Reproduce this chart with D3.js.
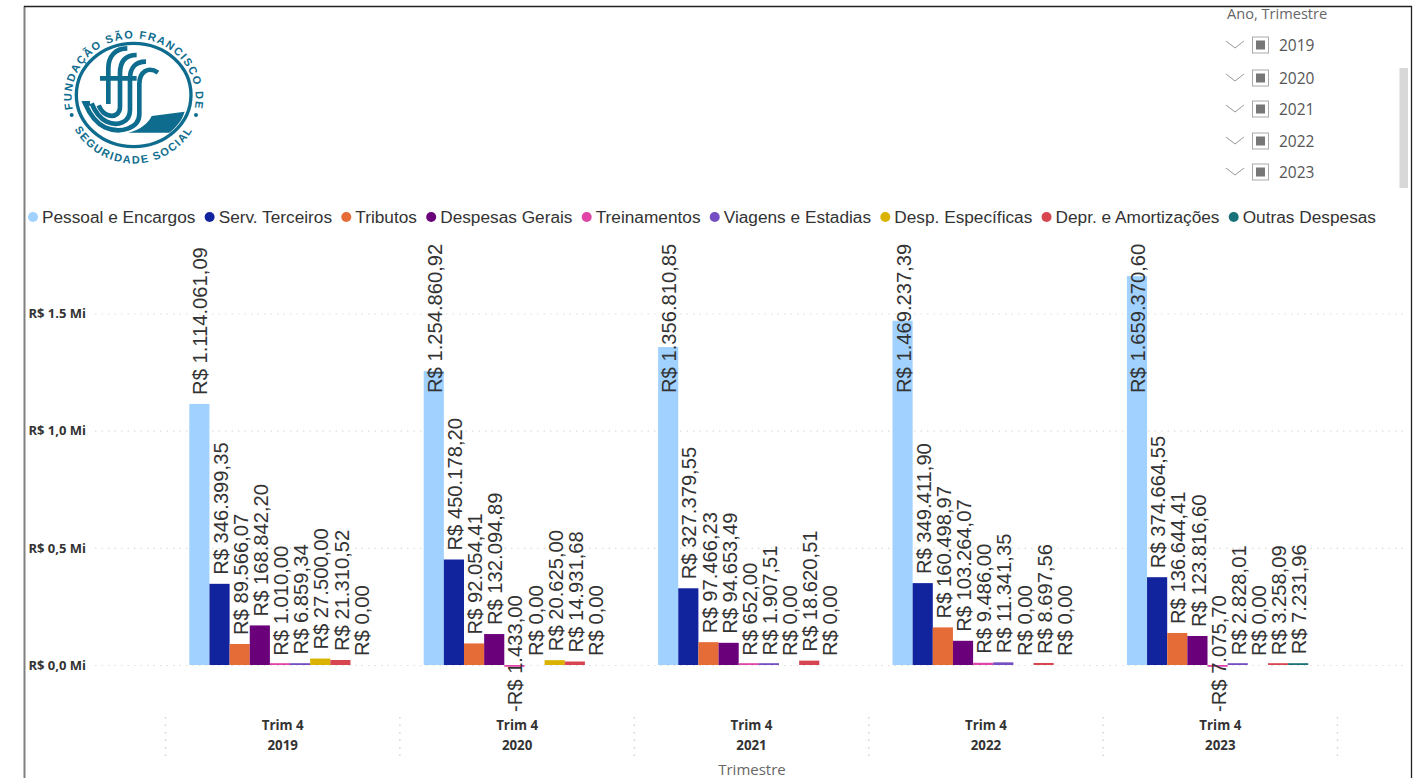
<!DOCTYPE html>
<html>
<head>
<meta charset="utf-8">
<script src="https://cdnjs.cloudflare.com/ajax/libs/d3/7.8.5/d3.min.js"></script>
<style>
  html, body { margin: 0; padding: 0; background: #fff; }
  svg { display: block; }
</style>
</head>
<body>
<svg id="chart" width="1424" height="778"></svg>
<script>
'use strict';

var years = ['2019', '2020', '2021', '2022', '2023'];
var quarterLabel = 'Trim 4';
var categories = ['Pessoal e Encargos', 'Serv. Terceiros', 'Tributos', 'Despesas Gerais', 'Treinamentos',
    'Viagens e Estadias', 'Desp. Específicas', 'Depr. e Amortizações', 'Outras Despesas'];
var colors = ['#A0D1FF', '#12239E', '#E66C37', '#6B007B', '#E044A7', '#744EC2', '#D9B300', '#D64550', '#197278'];

var values2019 = [1114061.09, 346399.35, 89566.07, 168842.20, 1010.00, 6859.34, 27500.00, 21310.52, 0];
var values2020 = [1254860.92, 450178.20, 92054.41, 132094.89, -1433.00, 0, 20625.00, 14931.68, 0];
var values2021 = [1356810.85, 327379.55, 97466.23, 94653.49, 652.00, 1907.51, 0, 18620.51, 0];
var values2022 = [1469237.39, 349411.90, 160498.97, 103264.07, 9486.00, 11341.35, 0, 8697.56, 0];
var values2023 = [1659370.60, 374664.55, 136644.41, 123816.60, -7075.70, 2828.01, 0, 3258.09, 7231.96];
var seriesByYear = [values2019, values2020, values2021, values2022, values2023];

var yTickValues = [0, 500000, 1000000, 1500000];
var yTickLabels = ['R$ 0,0 Mi', 'R$ 0,5 Mi', 'R$ 1,0 Mi', 'R$ 1.5 Mi'];
var slicerYears = [['2019', 45], ['2020', 78], ['2021', 109], ['2022', 141], ['2023', 172]];

var BAR_WIDTH = 20.15;
var MIN_BAR_HEIGHT = 1.8;
var LABEL_GAP = 9;
var LABEL_FLOOR = 393;      // long labels stop here so they stay inside the visual
var NEGATIVE_LABEL_DROP = 47;
var ARIAL = '"Liberation Sans", Arial, sans-serif';
var AXIS_FONT = '"Open Sans", sans-serif';
var LOGO_COLOR = '#0E6C8E';

var svg = d3.select('#chart');
var locale = d3.formatLocale({ decimal: ',', thousands: '.', grouping: [3], currency: ['R$ ', ''], minus: '-' });
var money = locale.format('$,.2f');

var x0 = d3.scaleBand().domain(years).range([165.5, 1337.5]);
var x1 = d3.scaleBand().domain(categories).range([23.8, 23.8 + BAR_WIDTH * categories.length]);
var y = d3.scaleLinear().domain([0, 1500000]).range([665, 313.5]);

function drawFrame() {
    svg.append('path')
        .attr('d', 'M24.5,6V778')
        .attr('stroke', '#808080')
        .attr('stroke-width', 2);
    svg.append('path')
        .attr('d', 'M24,6.5H1411.5V778')
        .attr('fill', 'none')
        .attr('stroke', '#222')
        .attr('stroke-width', 1.3);
}

function drawYAxis() {
    var axis = d3.axisLeft(y)
        .tickValues(yTickValues)
        .tickSize(-1310)
        .tickPadding(9)
        .tickFormat(function (d, i) { return yTickLabels[i]; });
    var g = svg.append('g')
        .attr('transform', 'translate(95,0)')
        .call(axis);
    g.select('.domain').remove();
    g.selectAll('.tick line')
        .attr('stroke', '#dedede')
        .attr('stroke-width', 1.2)
        .attr('stroke-dasharray', '1.5 5');
    g.selectAll('.tick text')
        .attr('fill', '#333')
        .attr('font-family', AXIS_FONT)
        .attr('font-weight', 700)
        .attr('font-size', 13);
}

function drawXAxis() {
    var axisG = svg.append('g').attr('class', 'x-axis');
    var edges = years.map(function (yr) { return x0(yr); }).concat([x0.range()[1]]);

    axisG.selectAll('line.sep')
        .data(edges)
        .join('line')
        .attr('class', 'sep')
        .attr('x1', function (d) { return d; })
        .attr('x2', function (d) { return d; })
        .attr('y1', 717)
        .attr('y2', 757)
        .attr('stroke', '#d4d4d4')
        .attr('stroke-width', 1.5)
        .attr('stroke-dasharray', '1.5 6');

    var labels = axisG.selectAll('g.label')
        .data(years)
        .join('g')
        .attr('class', 'label')
        .attr('transform', function (d) { return 'translate(' + (x0(d) + x0.bandwidth() / 2) + ',0)'; })
        .attr('text-anchor', 'middle')
        .attr('fill', '#333')
        .attr('font-family', AXIS_FONT)
        .attr('font-weight', 700)
        .attr('font-size', 13.3);
    labels.append('text').attr('y', 729.5).text(quarterLabel);
    labels.append('text').attr('y', 749.5).text(function (d) { return d; });

    svg.append('text')
        .attr('x', 752)
        .attr('y', 775)
        .attr('text-anchor', 'middle')
        .attr('fill', '#666')
        .attr('font-family', AXIS_FONT)
        .attr('font-size', 15)
        .text('Trimestre');
}

function drawLegend() {
    var cursor = 33;
    var legend = svg.append('g').attr('class', 'legend').attr('font-family', ARIAL).attr('font-size', 17.25);
    categories.forEach(function (name, i) {
        legend.append('circle')
            .attr('cx', cursor)
            .attr('cy', 217)
            .attr('r', 5)
            .attr('fill', colors[i]);
        var label = legend.append('text')
            .attr('x', cursor + 9)
            .attr('y', 223)
            .attr('fill', '#333')
            .text(name);
        cursor += 9 + label.node().getComputedTextLength() + 14.2;
    });
}

function barHeight(d) {
    if (d.value === 0) {
        return 0;
    }
    return Math.max(Math.abs(y(d.value) - y(0)), MIN_BAR_HEIGHT);
}

function drawBars() {
    var groups = svg.selectAll('g.year')
        .data(years)
        .join('g')
        .attr('class', 'year')
        .attr('transform', function (d) { return 'translate(' + x0(d) + ',0)'; });

    function rows(yr, i) {
        return seriesByYear[i].map(function (v, j) { return { name: categories[j], value: v, color: colors[j] }; });
    }

    groups.selectAll('rect')
        .data(rows)
        .join('rect')
        .attr('x', function (d) { return x1(d.name); })
        .attr('width', x1.bandwidth())
        .attr('y', function (d) { return d.value < 0 ? y(0) : y(0) - barHeight(d); })
        .attr('height', barHeight)
        .attr('fill', function (d) { return d.color; });

    groups.selectAll('text')
        .data(rows)
        .join('text')
        .attr('transform', function (d) {
            var lx = x1(d.name) + x1.bandwidth() - 2;
            var ly = d.value < 0 ? y(0) + NEGATIVE_LABEL_DROP : Math.max(y(d.value) - LABEL_GAP, LABEL_FLOOR);
            return 'translate(' + lx + ',' + ly + ') rotate(-90)';
        })
        .attr('font-family', ARIAL)
        .attr('font-size', 20.2)
        .attr('fill', '#333')
        .text(function (d) { return money(d.value); });
}

function drawSlicer() {
    var slicer = svg.append('g').attr('class', 'slicer');
    slicer.append('text')
        .attr('x', 1227)
        .attr('y', 19)
        .attr('fill', '#666')
        .attr('font-family', AXIS_FONT)
        .attr('font-size', 14.6)
        .text('Ano, Trimestre');

    var items = slicer.selectAll('g.item')
        .data(slicerYears)
        .join('g')
        .attr('class', 'item')
        .attr('transform', function (d) { return 'translate(0,' + d[1] + ')'; });

    items.append('path')
        .attr('d', 'M1226,-4L1235,3L1244,-4')
        .attr('fill', 'none')
        .attr('stroke', '#999')
        .attr('stroke-width', 1);
    items.append('rect')
        .attr('x', 1252.5)
        .attr('y', -8)
        .attr('width', 16)
        .attr('height', 16)
        .attr('fill', '#fff')
        .attr('stroke', '#aaa');
    items.append('rect')
        .attr('x', 1256)
        .attr('y', -4.5)
        .attr('width', 9)
        .attr('height', 9)
        .attr('fill', '#777');
    items.append('text')
        .attr('x', 1279)
        .attr('y', 6)
        .attr('fill', '#555')
        .attr('font-family', AXIS_FONT)
        .attr('font-size', 15.5)
        .text(function (d) { return d[0]; });

    slicer.append('rect')
        .attr('x', 1399.5)
        .attr('y', 68)
        .attr('width', 8.5)
        .attr('height', 120)
        .attr('fill', '#d8d8d8');
}

function drawLogo() {
    var logo = svg.append('g')
        .attr('class', 'logo')
        .attr('transform', 'translate(40,10) scale(0.3333)');
    var cx = 281, cy = 255;

    logo.append('defs').html(
        '<path id="logoTop" d="M' + (cx - 183) + ',' + (cy + 40) + 'A186,178 0 1 1 ' + (cx + 183) + ',' + (cy + 40) + '"/>' +
        '<path id="logoBottom" d="M' + (cx - 182) + ',' + (cy + 95) + 'A205,205 0 0 0 ' + (cx + 182) + ',' + (cy + 95) + '"/>'
    );

    logo.append('ellipse')
        .attr('cx', cx)
        .attr('cy', cy)
        .attr('rx', 172)
        .attr('ry', 155)
        .attr('fill', 'none')
        .attr('stroke', LOGO_COLOR)
        .attr('stroke-width', 10);

    logo.append('path')
        .attr('d', 'M335,318L434,305C425,335 405,355 388,368L265,368C300,360 325,340 335,318Z')
        .attr('fill', LOGO_COLOR);

    var stripes = [
        'M262,115C225,115 205,140 205,175L205,282',
        'M290,135C255,135 240,155 240,190L240,290C240,312 222,322 205,316C190,311 182,300 176,286',
        'M318,155C285,155 270,175 270,205L270,300C270,338 232,350 200,335C178,324 165,305 155,280',
        'M354,188C325,168 298,185 298,222L298,312C298,356 240,372 195,352C165,338 148,310 135,280L150,280'
    ];
    logo.selectAll('path.stripe')
        .data(stripes)
        .join('path')
        .attr('class', 'stripe')
        .attr('d', function (d) { return d; })
        .attr('fill', 'none')
        .attr('stroke', LOGO_COLOR)
        .attr('stroke-width', 14);
    logo.append('path')
        .attr('d', 'M180,205H290')
        .attr('stroke', LOGO_COLOR)
        .attr('stroke-width', 14);

    var textStyle = function (sel) {
        return sel.attr('fill', LOGO_COLOR)
            .attr('font-family', ARIAL)
            .attr('font-weight', 700)
            .attr('font-size', 33)
            .attr('letter-spacing', 4.5)
            .attr('text-anchor', 'middle');
    };
    logo.append('text').call(textStyle)
        .append('textPath')
        .attr('href', '#logoTop')
        .attr('startOffset', '50%')
        .text('FUNDAÇÃO SÃO FRANCISCO DE');
    logo.append('text').call(textStyle)
        .append('textPath')
        .attr('href', '#logoBottom')
        .attr('startOffset', '50%')
        .text('SEGURIDADE SOCIAL');

    logo.selectAll('circle.dot')
        .data([95, 468])
        .join('circle')
        .attr('class', 'dot')
        .attr('cx', function (d) { return d; })
        .attr('cy', 315)
        .attr('r', 6)
        .attr('fill', LOGO_COLOR);
}

drawFrame();
drawYAxis();
drawXAxis();
drawBars();
drawLegend();
drawSlicer();
drawLogo();
</script>
</body>
</html>
